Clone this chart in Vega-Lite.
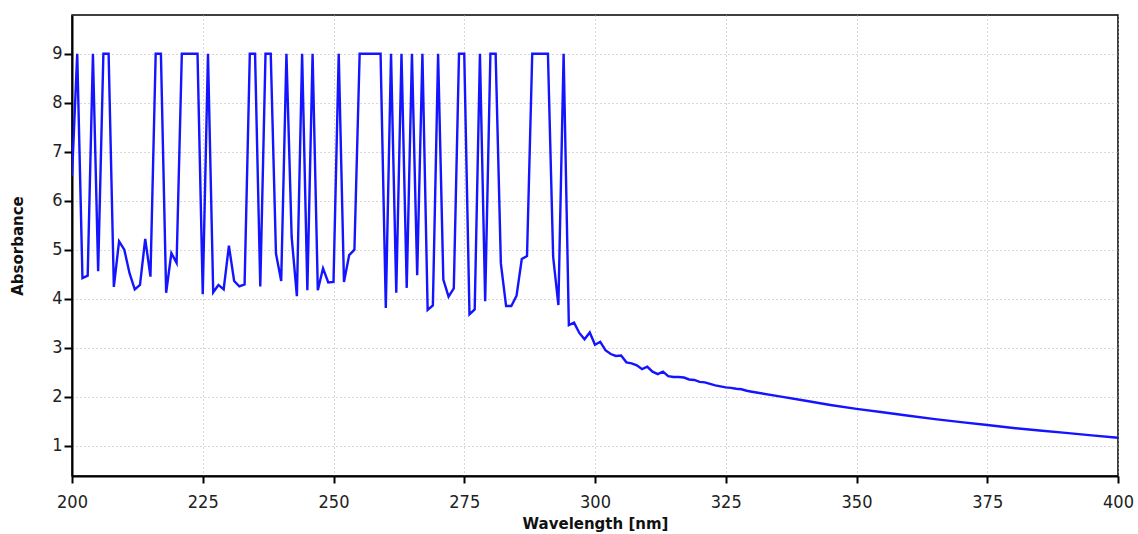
{
  "$schema": "https://vega.github.io/schema/vega-lite/v6.json",
  "autosize": "none",
  "width": 1046,
  "height": 461,
  "padding": {"left": 72, "top": 15, "right": 20, "bottom": 58},
  "background": "white",
  "config": {
    "font": "DejaVu Sans",
    "view": {"stroke": "#000000", "strokeWidth": 1.5},
    "axis": {
      "labelFont": "DejaVu Sans Condensed",
      "titleFont": "DejaVu Sans",
      "labelFontSize": 18,
      "titleFontSize": 15,
      "titleFontWeight": "bold",
      "labelColor": "#222222",
      "titleColor": "#111111",
      "domainColor": "#000000",
      "domainWidth": 2,
      "tickColor": "#000000",
      "tickWidth": 2,
      "tickSize": 8,
      "labelFlush": false,
      "labelOverlap": false,
      "gridColor": "#b0b0b0",
      "gridDash": [1, 3],
      "gridWidth": 1
    }
  },
  "data": {
    "values": [
      {"w": 200, "a": 6.5}, {"w": 201, "a": 9}, {"w": 202, "a": 4.42}, {"w": 203, "a": 4.47},
      {"w": 204, "a": 9}, {"w": 205, "a": 4.56}, {"w": 206, "a": 9}, {"w": 207, "a": 9},
      {"w": 208, "a": 4.24}, {"w": 209, "a": 5.17}, {"w": 210, "a": 5.0}, {"w": 211, "a": 4.52},
      {"w": 212, "a": 4.19}, {"w": 213, "a": 4.28}, {"w": 214, "a": 5.22}, {"w": 215, "a": 4.45},
      {"w": 216, "a": 9}, {"w": 217, "a": 9}, {"w": 218, "a": 4.12}, {"w": 219, "a": 4.93},
      {"w": 220, "a": 4.73}, {"w": 221, "a": 9}, {"w": 222, "a": 9}, {"w": 223, "a": 9},
      {"w": 224, "a": 9}, {"w": 225, "a": 4.09}, {"w": 226, "a": 9}, {"w": 227, "a": 4.13},
      {"w": 228, "a": 4.28}, {"w": 229, "a": 4.19}, {"w": 230, "a": 5.08}, {"w": 231, "a": 4.36},
      {"w": 232, "a": 4.25}, {"w": 233, "a": 4.29}, {"w": 234, "a": 9}, {"w": 235, "a": 9},
      {"w": 236, "a": 4.25}, {"w": 237, "a": 9}, {"w": 238, "a": 9}, {"w": 239, "a": 4.92},
      {"w": 240, "a": 4.36}, {"w": 241, "a": 9}, {"w": 242, "a": 5.26}, {"w": 243, "a": 4.05},
      {"w": 244, "a": 9}, {"w": 245, "a": 4.17}, {"w": 246, "a": 9}, {"w": 247, "a": 4.17},
      {"w": 248, "a": 4.62}, {"w": 249, "a": 4.33}, {"w": 250, "a": 4.34}, {"w": 251, "a": 9},
      {"w": 252, "a": 4.34}, {"w": 253, "a": 4.89}, {"w": 254, "a": 5.0}, {"w": 255, "a": 9},
      {"w": 256, "a": 9}, {"w": 257, "a": 9}, {"w": 258, "a": 9}, {"w": 259, "a": 9},
      {"w": 260, "a": 3.81}, {"w": 261, "a": 9}, {"w": 262, "a": 4.12}, {"w": 263, "a": 9},
      {"w": 264, "a": 4.22}, {"w": 265, "a": 9}, {"w": 266, "a": 4.48}, {"w": 267, "a": 9},
      {"w": 268, "a": 3.77}, {"w": 269, "a": 3.86}, {"w": 270, "a": 9}, {"w": 271, "a": 4.39},
      {"w": 272, "a": 4.04}, {"w": 273, "a": 4.21}, {"w": 274, "a": 9}, {"w": 275, "a": 9},
      {"w": 276, "a": 3.68}, {"w": 277, "a": 3.78}, {"w": 278, "a": 9}, {"w": 279, "a": 3.95},
      {"w": 280, "a": 9}, {"w": 281, "a": 9}, {"w": 282, "a": 4.72}, {"w": 283, "a": 3.85},
      {"w": 284, "a": 3.85}, {"w": 285, "a": 4.06}, {"w": 286, "a": 4.81}, {"w": 287, "a": 4.87},
      {"w": 288, "a": 9}, {"w": 289, "a": 9}, {"w": 290, "a": 9}, {"w": 291, "a": 9},
      {"w": 292, "a": 4.85}, {"w": 293, "a": 3.87}, {"w": 294, "a": 9}, {"w": 295, "a": 3.46},
      {"w": 296, "a": 3.51}, {"w": 297, "a": 3.3}, {"w": 298, "a": 3.17}, {"w": 299, "a": 3.31},
      {"w": 300, "a": 3.06}, {"w": 301, "a": 3.12}, {"w": 302, "a": 2.95}, {"w": 303, "a": 2.87},
      {"w": 304, "a": 2.83}, {"w": 305, "a": 2.84}, {"w": 306, "a": 2.7}, {"w": 307, "a": 2.68},
      {"w": 308, "a": 2.64}, {"w": 309, "a": 2.56}, {"w": 310, "a": 2.61}, {"w": 311, "a": 2.51},
      {"w": 312, "a": 2.46}, {"w": 313, "a": 2.51}, {"w": 314, "a": 2.42}, {"w": 315, "a": 2.4},
      {"w": 316, "a": 2.4}, {"w": 317, "a": 2.39}, {"w": 318, "a": 2.35}, {"w": 319, "a": 2.34},
      {"w": 320, "a": 2.3}, {"w": 321, "a": 2.29}, {"w": 322, "a": 2.26}, {"w": 323, "a": 2.23},
      {"w": 324, "a": 2.21}, {"w": 325, "a": 2.19}, {"w": 326, "a": 2.18}, {"w": 327, "a": 2.16},
      {"w": 328, "a": 2.15}, {"w": 329, "a": 2.12}, {"w": 330, "a": 2.1}, {"w": 335, "a": 2.01},
      {"w": 340, "a": 1.92}, {"w": 345, "a": 1.83}, {"w": 350, "a": 1.75}, {"w": 355, "a": 1.68},
      {"w": 360, "a": 1.61}, {"w": 365, "a": 1.54}, {"w": 370, "a": 1.48}, {"w": 375, "a": 1.42},
      {"w": 380, "a": 1.36}, {"w": 385, "a": 1.31}, {"w": 390, "a": 1.26}, {"w": 395, "a": 1.21},
      {"w": 400, "a": 1.16}
    ]
  },
  "mark": {"type": "line", "color": "#1414ff", "strokeWidth": 2.4, "clip": true},
  "encoding": {
    "x": {
      "field": "w",
      "type": "quantitative",
      "scale": {"domain": [200, 400], "nice": false, "zero": false},
      "axis": {"values": [200, 225, 250, 275, 300, 325, 350, 375, 400], "title": "Wavelength [nm]", "tickSize": 7, "labelPadding": 10, "titlePadding": 5}
    },
    "y": {
      "field": "a",
      "type": "quantitative",
      "scale": {"domain": [0.38, 9.79], "nice": false, "zero": false},
      "axis": {"values": [1, 2, 3, 4, 5, 6, 7, 8, 9], "title": "Absorbance", "labelPadding": 2, "titlePadding": 26}
    }
  }
}
